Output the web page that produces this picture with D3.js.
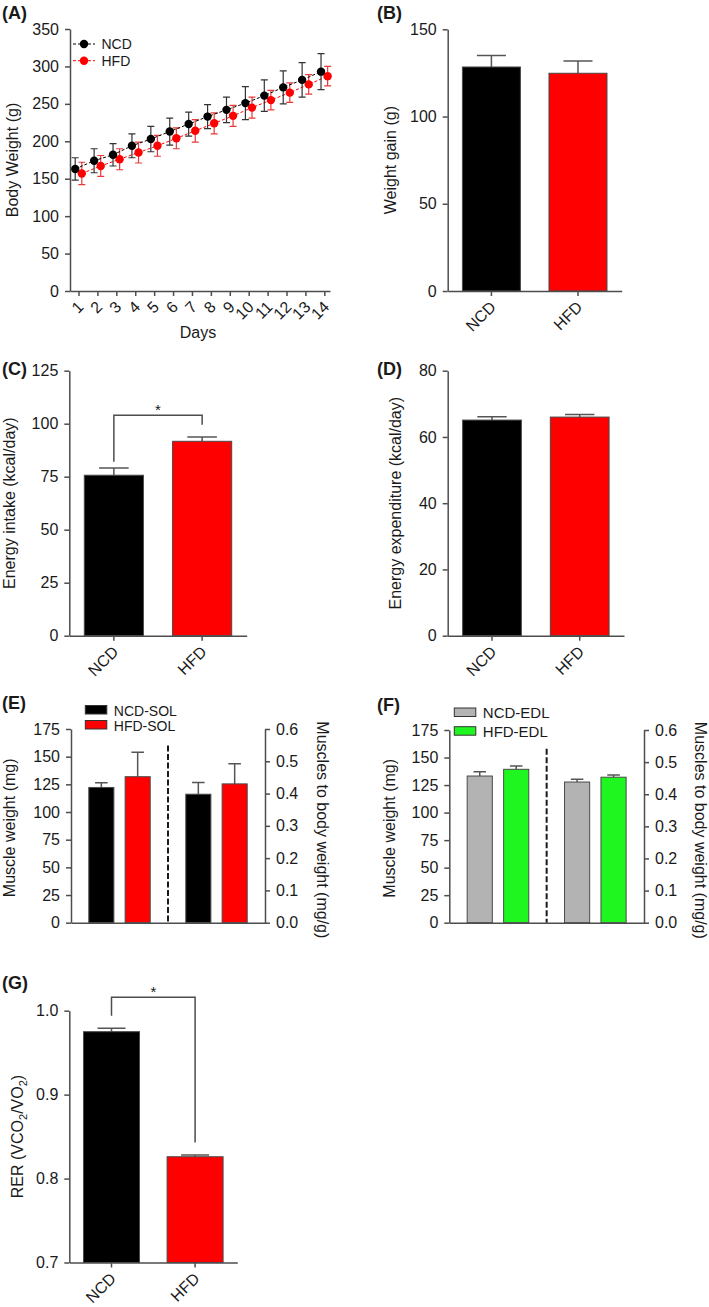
<!DOCTYPE html>
<html lang="en">

<head>
    <meta charset="UTF-8">
    <title>Body weight, energy balance and muscle mass (NCD vs HFD)</title>
    <script src="https://d3js.org/d3.v7.min.js"></script>
    <style type="text/css">
        body {
            margin: 0;
            background: #fff;
        }

        svg {
            display: block;
            font-family: "Liberation Sans", Arial, sans-serif;
        }

        .axis path,
        .axis line {
            stroke: #4d4d4d;
            stroke-width: 1.5;
        }

        .axis text,
        .title {
            font-family: "Liberation Sans", Arial, sans-serif;
            font-size: 16px;
            fill: #1a1a1a;
        }

        .tag {
            font-size: 18px;
            font-weight: bold;
            fill: #1a1a1a;
        }

        .legend text {
            fill: #1a1a1a;
        }
    </style>
</head>

<body>
    <div id="figure"></div>
    <script type="text/javascript">
        // (A) body weight over 14 days, mean +/- SD
        var days = [1, 2, 3, 4, 5, 6, 7, 8, 9, 10, 11, 12, 13, 14];
        var ncdBodyWeight = [163, 174, 182, 194, 203, 213, 223, 233, 242, 251, 261, 272, 282, 293];
        var ncdBodyWeightSd = [15, 16, 15, 16, 17, 18, 16, 16, 17, 22, 21, 22, 23, 24];
        var hfdBodyWeight = [157, 167, 176, 185, 194, 204, 214, 224, 234, 245, 255, 265, 276, 287];
        var hfdBodyWeightSd = [15, 14, 14, 14, 14, 14, 15, 14, 14, 14, 13, 13, 13, 13];
        var bodyWeightTicks = [0, 50, 100, 150, 200, 250, 300, 350];

        // bar panels: two diet groups
        var groups = ['NCD', 'HFD'];
        var weightGain = [128.4, 124.8];
        var weightGainErr = [6.6, 7.1];
        var weightGainTicks = [0, 50, 100, 150];

        var energyIntake = [75.7, 91.7];
        var energyIntakeErr = [3.4, 2.0];
        var energyIntakeTicks = [0, 25, 50, 75, 100, 125];
        var energyIntakeSig = [82, 104, 99.5]; // left leg end, bar top, right leg end

        var energyExpenditure = [65.1, 66.0];
        var energyExpenditureErr = [1.0, 0.8];
        var energyExpenditureTicks = [0, 20, 40, 60, 80];

        // (E) soleus, (F) EDL: absolute weight (mg) and ratio to body weight (mg/g)
        var solSeries = ['NCD-SOL', 'HFD-SOL'];
        var solWeight = [122.2, 131.9];
        var solWeightErr = [4.3, 22.0];
        var solRatio = [0.398, 0.430];
        var solRatioErr = [0.036, 0.062];

        var edlSeries = ['NCD-EDL', 'HFD-EDL'];
        var edlWeight = [133.2, 139.3];
        var edlWeightErr = [3.9, 3.0];
        var edlRatio = [0.438, 0.453];
        var edlRatioErr = [0.009, 0.007];

        var muscleTicks = [0, 25, 50, 75, 100, 125, 150, 175];
        var ratioTicks = [0, 0.1, 0.2, 0.3, 0.4, 0.5, 0.6];

        // (G) respiratory exchange ratio
        var rer = [0.975, 0.826];
        var rerErr = [0.004, 0.002];
        var rerTicks = [0.7, 0.8, 0.9, 1.0];
        var rerSig = [0.994, 1.016, 0.843];

        var RED = '#ff0000', BLACK = '#000000', GREY = '#b3b3b3', GREEN = '#1ff51f';

        var svg = d3.select('#figure').append('svg')
            .attr('width', 709)
            .attr('height', 1307);

        function tag(text, x, y) {
            svg.append('text').attr('class', 'tag').attr('x', x).attr('y', y).text(text);
        }

        function yTitle(text, x, yc, angle) {
            return svg.append('text')
                .attr('class', 'title')
                .attr('text-anchor', 'middle')
                .attr('transform', 'translate(' + x + ',' + yc + ') rotate(' + (angle || -90) + ')')
                .text(text);
        }

        function leftAxis(y, x, ticks, fmt) {
            var ax = d3.axisLeft(y).tickValues(ticks).tickSize(5).tickPadding(6).tickSizeOuter(0);
            if (fmt) ax.tickFormat(fmt);
            svg.append('g').attr('class', 'axis').attr('transform', 'translate(' + x + ',0)').call(ax);
        }

        function rightAxis(y, x, ticks, fmt) {
            var ax = d3.axisRight(y).tickValues(ticks).tickSize(5).tickPadding(6).tickSizeOuter(0);
            if (fmt) ax.tickFormat(fmt);
            svg.append('g').attr('class', 'axis').attr('transform', 'translate(' + x + ',0)').call(ax);
        }

        function bottomAxis(x, y0, tickValues, showLabels) {
            var ax = d3.axisBottom(x).tickSize(5).tickSizeOuter(0);
            if (tickValues) ax.tickValues(tickValues);
            var g = svg.append('g').attr('class', 'axis').attr('transform', 'translate(0,' + y0 + ')').call(ax);
            if (showLabels === false) {
                g.selectAll('.tick').remove();
                return g;
            }
            g.selectAll('.tick text')
                .attr('x', 0).attr('y', 0).attr('dy', null)
                .attr('text-anchor', 'end')
                .attr('transform', 'translate(5.5,17) rotate(-45)');
            return g;
        }

        function errorBar(x, yBase, yTip, cap) {
            var p = d3.path();
            p.moveTo(x, yBase);
            p.lineTo(x, yTip);
            p.moveTo(x - cap / 2, yTip);
            p.lineTo(x + cap / 2, yTip);
            return p.toString();
        }

        function drawBars(xScale, offset, y, base, values, errs, fills) {
            var bw = xScale.bandwidth();
            var g = svg.append('g');
            g.selectAll('path.err')
                .data(values)
                .enter()
                .append('path')
                .attr('class', 'err')
                .attr('d', function (d, i) {
                    var cx = offset + xScale(groups[i]) + bw / 2;
                    return errorBar(cx, y(d), y(d + errs[i]), bw * 0.5);
                })
                .attr('fill', 'none')
                .attr('stroke', '#555')
                .attr('stroke-width', 1.5);
            g.selectAll('rect')
                .data(values)
                .enter()
                .append('rect')
                .attr('x', function (d, i) { return offset + xScale(groups[i]); })
                .attr('y', function (d) { return y(d); })
                .attr('width', bw)
                .attr('height', function (d) { return y(base) - y(d); })
                .attr('fill', function (d, i) { return fills[i]; })
                .attr('stroke', '#4a4a4a')
                .attr('stroke-width', 1);
        }

        function sigBracket(xScale, y, levels) {
            var x1 = xScale(groups[0]) + xScale.bandwidth() / 2;
            var x2 = xScale(groups[1]) + xScale.bandwidth() / 2;
            var p = d3.path();
            p.moveTo(x1, y(levels[0]));
            p.lineTo(x1, y(levels[1]));
            p.lineTo(x2, y(levels[1]));
            p.lineTo(x2, y(levels[2]));
            svg.append('path').attr('d', p.toString())
                .attr('fill', 'none').attr('stroke', '#4d4d4d').attr('stroke-width', 1.5);
            svg.append('text')
                .attr('x', (x1 + x2) / 2)
                .attr('y', y(levels[1]) - 0.5)
                .attr('text-anchor', 'middle')
                .attr('font-size', 15)
                .attr('fill', '#1a1a1a')
                .text('*');
        }

        function simpleBarPanel(L, values, errs, ticks, fmt, title) {
            var x = d3.scaleBand().domain(groups).range([L.x0, L.x1])
                .paddingInner(0.33).paddingOuter(0.17);
            var y = d3.scaleLinear().domain([ticks[0], ticks[ticks.length - 1]]).range([L.yb, L.yt]);
            drawBars(x, 0, y, ticks[0], values, errs, [BLACK, RED]);
            leftAxis(y, L.x0, ticks, fmt);
            bottomAxis(x, L.yb);
            yTitle(title, L.titleX, (L.yb + L.yt) / 2);
            return { x: x, y: y };
        }

        // ---------- (A) body weight ----------
        var xA = d3.scaleLinear().domain([0.55, 14.3]).range([70, 330]);
        var yA = d3.scaleLinear().domain([0, 350]).range([291, 29]);
        var shift = 3.3;

        function drawSeries(values, sds, dx, color, errColor) {
            var g = svg.append('g');
            var line = d3.line()
                .x(function (d, i) { return xA(days[i]) + dx; })
                .y(function (d) { return yA(d); });
            g.append('path').datum(values)
                .attr('d', line)
                .attr('fill', 'none')
                .attr('stroke', color)
                .attr('stroke-width', 1)
                .attr('stroke-dasharray', '3,2');
            g.selectAll('path.err')
                .data(values)
                .enter()
                .append('path')
                .attr('class', 'err')
                .attr('d', function (d, i) {
                    var cx = xA(days[i]) + dx;
                    var p = d3.path();
                    p.moveTo(cx, yA(d - sds[i]));
                    p.lineTo(cx, yA(d + sds[i]));
                    p.moveTo(cx - 3.5, yA(d + sds[i]));
                    p.lineTo(cx + 3.5, yA(d + sds[i]));
                    p.moveTo(cx - 3.5, yA(d - sds[i]));
                    p.lineTo(cx + 3.5, yA(d - sds[i]));
                    return p.toString();
                })
                .attr('fill', 'none')
                .attr('stroke', errColor)
                .attr('stroke-width', 1.2);
            g.selectAll('circle')
                .data(values)
                .enter()
                .append('circle')
                .attr('cx', function (d, i) { return xA(days[i]) + dx; })
                .attr('cy', function (d) { return yA(d); })
                .attr('r', 4.2)
                .attr('fill', color);
        }

        drawSeries(hfdBodyWeight, hfdBodyWeightSd, shift, RED, '#e83a3a');
        drawSeries(ncdBodyWeight, ncdBodyWeightSd, -shift, BLACK, '#333');
        leftAxis(yA, 70, bodyWeightTicks);
        bottomAxis(xA, 291, days);
        svg.append('text').attr('class', 'title').attr('x', 198).attr('y', 337.5)
            .attr('text-anchor', 'middle').text('Days');
        yTitle('Body Weight (g)', 17.8, 160);
        tag('(A)', 2, 19);

        var legendA = svg.append('g').attr('class', 'legend');
        [['NCD', BLACK], ['HFD', RED]].forEach(function (s, i) {
            var ly = 44 + i * 16.7;
            legendA.append('line').attr('x1', 73).attr('x2', 95).attr('y1', ly).attr('y2', ly)
                .attr('stroke', s[1]).attr('stroke-width', 1).attr('stroke-dasharray', '3,2');
            legendA.append('circle').attr('cx', 84).attr('cy', ly).attr('r', 4.2).attr('fill', s[1]);
            legendA.append('text').attr('x', 101.5).attr('y', ly + 5).attr('font-size', 14).text(s[0]);
        });

        // ---------- (B) weight gain ----------
        simpleBarPanel({ x0: 447.7, x1: 621.7, yb: 291, yt: 29.3, titleX: 395.5 },
            weightGain, weightGainErr, weightGainTicks, null, 'Weight gain (g)');
        tag('(B)', 377, 19);

        // ---------- (C) energy intake ----------
        var pC = simpleBarPanel({ x0: 69.3, x1: 246.7, yb: 635.7, yt: 370.7, titleX: 15 },
            energyIntake, energyIntakeErr, energyIntakeTicks, null, 'Energy intake (kcal/day)');
        sigBracket(pC.x, pC.y, energyIntakeSig);
        tag('(C)', 2, 375);

        // ---------- (D) energy expenditure ----------
        simpleBarPanel({ x0: 447.7, x1: 624, yb: 635.7, yt: 370.7, titleX: 401 },
            energyExpenditure, energyExpenditureErr, energyExpenditureTicks, null, 'Energy expenditure (kcal/day)');
        tag('(D)', 377, 375);

        // ---------- (E)/(F) muscle panels ----------
        function musclePanel(L, names, wt, wtErr, ratio, ratioErr, fills) {
            var outer = d3.scaleBand().domain(['weight', 'ratio']).range([L.x0, L.x1]);
            var inner = d3.scaleBand().domain(groups).range([0, outer.bandwidth()])
                .paddingInner(0.31).paddingOuter(0.49);
            var yW = d3.scaleLinear().domain([0, 175]).range([L.yb, L.yt]);
            var yR = d3.scaleLinear().domain([0, 0.6]).range([L.yb, L.yt]);

            drawBars(inner, outer('weight'), yW, 0, wt, wtErr, fills);
            drawBars(inner, outer('ratio'), yR, 0, ratio, ratioErr, fills);

            svg.append('line')
                .attr('x1', outer('ratio')).attr('x2', outer('ratio'))
                .attr('y1', yW(L.divider)).attr('y2', yW(0))
                .attr('stroke', '#1a1a1a').attr('stroke-width', 2)
                .attr('stroke-dasharray', '6,2.5');

            leftAxis(yW, L.x0, muscleTicks);
            rightAxis(yR, L.x1, ratioTicks, d3.format('.1f'));
            bottomAxis(outer, L.yb, null, false);
            yTitle('Muscle weight (mg)', L.leftTitleX, (L.yb + L.yt) / 2 + 2);
            yTitle('Muscles to body weight (mg/g)', L.rightTitleX, (L.yb + L.yt) / 2 + 4, 90);

            var lg = svg.append('g').attr('class', 'legend');
            names.forEach(function (n, i) {
                var ty = L.legendY + i * L.legendStep;
                lg.append('rect').attr('x', L.legendX).attr('y', ty)
                    .attr('width', 21.5).attr('height', 8.5)
                    .attr('fill', fills[i]).attr('stroke', '#333').attr('stroke-width', 1);
                lg.append('text').attr('x', L.legendX + 28.5).attr('y', ty + 10)
                    .attr('font-size', L.legendFont).text(n);
            });
        }

        musclePanel({
            x0: 71, x1: 265, yb: 922.7, yt: 729, divider: 160,
            leftTitleX: 15, rightTitleX: 316.7,
            legendX: 85.3, legendY: 705.5, legendStep: 15, legendFont: 14
        }, solSeries, solWeight, solWeightErr, solRatio, solRatioErr, [BLACK, RED]);
        tag('(E)', 2, 709);

        musclePanel({
            x0: 449.3, x1: 644, yb: 922.7, yt: 730, divider: 158,
            leftTitleX: 394.6, rightTitleX: 694.5,
            legendX: 454.3, legendY: 708, legendStep: 18.7, legendFont: 15
        }, edlSeries, edlWeight, edlWeightErr, edlRatio, edlRatioErr, [GREY, GREEN]);
        tag('(F)', 377, 711);

        // ---------- (G) RER ----------
        var xG = d3.scaleBand().domain(groups).range([69.3, 237.3]).paddingInner(0.33).paddingOuter(0.17);
        var yG = d3.scaleLinear().domain([rerTicks[0], rerTicks[rerTicks.length - 1]]).range([1262.5, 1010.7]);
        drawBars(xG, 0, yG, rerTicks[0], rer, rerErr, [BLACK, RED]);
        leftAxis(yG, 69.3, rerTicks, d3.format('.1f'));
        bottomAxis(xG, 1262.5);
        sigBracket(xG, yG, rerSig);
        var rerTitle = yTitle('', 23.4, 1136.5);
        rerTitle.append('tspan').text('RER (VCO');
        rerTitle.append('tspan').attr('dy', 4).attr('font-size', 11).text('2');
        rerTitle.append('tspan').attr('dy', -4).text('/VO');
        rerTitle.append('tspan').attr('dy', 4).attr('font-size', 11).text('2');
        rerTitle.append('tspan').attr('dy', -4).text(')');
        tag('(G)', 2, 989);
    </script>
</body>

</html>
